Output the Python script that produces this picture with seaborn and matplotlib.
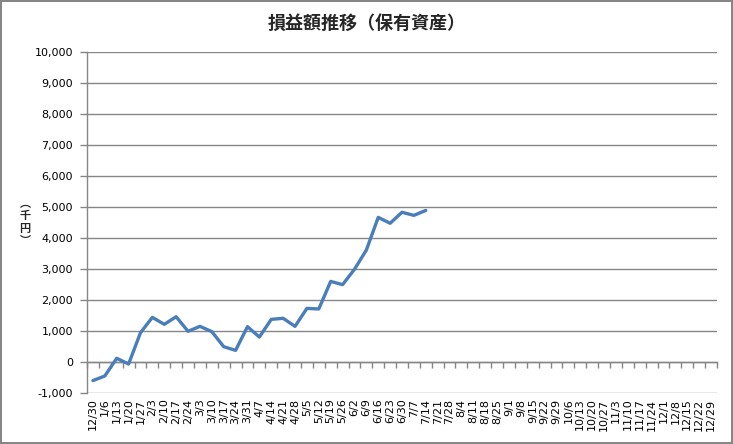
import numpy as np
import pandas as pd
import matplotlib
matplotlib.use("Agg")
import matplotlib.pyplot as plt
import seaborn as sns

# week labels (x axis)
weeks = ["12/30", "1/6", "1/13", "1/20", "1/27", "2/3", "2/10", "2/17", "2/24",
         "3/3", "3/10", "3/17", "3/24", "3/31", "4/7", "4/14", "4/21", "4/28",
         "5/5", "5/12", "5/19", "5/26", "6/2", "6/9", "6/16", "6/23", "6/30",
         "7/7", "7/14", "7/21", "7/28", "8/4", "8/11", "8/18", "8/25", "9/1",
         "9/8", "9/15", "9/22", "9/29", "10/6", "10/13", "10/20", "10/27",
         "11/3", "11/10", "11/17", "11/24", "12/1", "12/8", "12/15", "12/22",
         "12/29"]

# profit/loss (thousand yen), only filled up to 7/14
pl_values = [-600, -450, 120, -65, 945, 1440, 1215, 1460, 990, 1150, 980, 495,
             375, 1140, 805, 1375, 1410, 1150, 1730, 1710, 2600, 2495, 2990,
             3610, 4665, 4475, 4830, 4730, 4890]

y_ticks = list(range(-1000, 10001, 1000))

sns.set_theme(style="white")
plt.rcParams['font.family'] = ['DejaVu Sans', 'Noto Sans CJK JP']

df = pd.DataFrame({"week": np.arange(len(pl_values)), "pl": pl_values})

fig = plt.figure(figsize=(7.33, 4.44), dpi=100, linewidth=1.5, edgecolor="#868686")
ax = fig.add_axes([87 / 733, 51 / 444, 630 / 733, 341 / 444])

sns.lineplot(data=df, x="week", y="pl", ax=ax, color="#4A7EBB", linewidth=2.4)

grid_col = "#868686"
ax.set_xlim(-0.5, len(weeks) - 0.5)
ax.set_ylim(-1000, 10000)
ax.set_yticks(y_ticks)
ax.set_yticklabels([f"{v:,}" for v in y_ticks], fontsize=8, color="black")
ax.set_xticks(np.arange(len(weeks)))
ax.set_xticklabels(weeks, rotation=90, fontsize=8, color="black")
ax.tick_params(axis="x", length=0, pad=4)
ax.tick_params(axis="y", length=5, width=1, color=grid_col, direction="out", pad=5, left=True)
ax.yaxis.grid(True, color=grid_col, linewidth=1)
ax.xaxis.grid(False)
for side in ["top", "right", "bottom"]:
    ax.spines[side].set_visible(False)
ax.spines["left"].set_color(grid_col)
ax.spines["left"].set_linewidth(1)
ax.set_xlabel("")
ax.set_ylabel("")

# category axis sits on the zero line, ticks between categories
zero_pos = (0 - (-1000)) / 11000
sec = ax.secondary_xaxis(zero_pos)
sec.set_xticks(np.arange(-0.5, len(weeks), 1.0))
sec.set_xticklabels([])
sec.tick_params(axis="x", length=4, width=1, color=grid_col, direction="out")
sec.spines["bottom"].set_color(grid_col)
sec.spines["bottom"].set_linewidth(1)

fig.text(0.5, 1 - 23 / 444, "損益額推移（保有資産）", ha="center", va="center",
         fontsize=13, fontweight="bold", family=["Noto Sans CJK JP", "DejaVu Sans"])
fig.text(25 / 733, 1 - 222 / 444, "︵\n千\n円\n︶", ha="center", va="center",
         fontsize=8, fontweight="bold", linespacing=0.95,
         family=["Noto Sans CJK JP", "DejaVu Sans"])

fig.savefig("out.png", dpi=100, edgecolor=fig.get_edgecolor())
